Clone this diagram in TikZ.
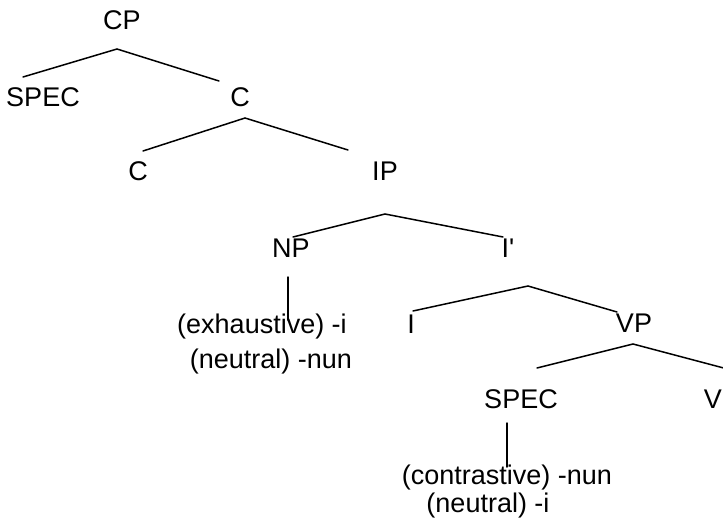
\documentclass[tikz,border=0pt]{standalone}
\usepackage{fontspec}
\setmainfont{Liberation Sans}
\begin{document}
\begin{tikzpicture}[x=1pt,y=-1pt,
  lbl/.style={inner sep=0pt, anchor=base, font=\fontsize{27}{32}\selectfont},
  edge/.style={line width=1.5pt, line cap=round}]
\useasboundingbox (0,0) rectangle (723,524);
% nodes
\node[lbl] (CP) at (122,30) {CP};
\node[lbl] (SPEC1) at (43,107) {SPEC};
\node[lbl] (C1) at (240,107) {C};
\node[lbl] (C2) at (138,180) {C};
\node[lbl] (IP) at (385,180) {IP};
\node[lbl] (NP) at (291,257) {NP};
\node[lbl] (Ibar) at (508,257) {I\textquotesingle};
\node[lbl] (NPa) at (262,333) {(exhaustive) -i};
\node[lbl] (NPb) at (271,368) {(neutral) -nun};
\node[lbl] (I) at (411,333) {I};
\node[lbl] (VP) at (634,332) {VP};
\node[lbl] (SPEC2) at (521,408) {SPEC};
\node[lbl, anchor=base east] (V) at (722,408) {V};
\node[lbl] (SPa) at (507,484) {(contrastive) -nun};
\node[lbl] (SPb) at (488,512) {(neutral) -i};
% branch points
\coordinate (CPb) at (117,49);
\coordinate (SPEC1t) at (23,77);
\coordinate (C1t) at (219,81);
\coordinate (C1b) at (245,118);
\coordinate (C2t) at (143,151);
\coordinate (IPt) at (348,150);
\coordinate (IPb) at (385,214);
\coordinate (NPt) at (293,237);
\coordinate (Ibart) at (503,237);
\coordinate (NPb1) at (288,277);
\coordinate (NPb2) at (288,320);
\coordinate (Ibarb) at (528,286);
\coordinate (It) at (413,311);
\coordinate (VPt) at (617,312);
\coordinate (VPb) at (633,344);
\coordinate (SPEC2t) at (537,368);
\coordinate (Vt) at (735,371);
\coordinate (SPb1) at (507,423);
\coordinate (SPb2) at (507,467);
% connectors
\draw[edge] (SPEC1t) -- (CPb) -- (C1t);
\draw[edge] (C2t) -- (C1b) -- (IPt);
\draw[edge] (NPt) -- (IPb) -- (Ibart);
\draw[edge] (NPb1) -- (NPb2);
\draw[edge] (It) -- (Ibarb) -- (VPt);
\draw[edge] (SPEC2t) -- (VPb) -- (Vt);
\draw[edge] (SPb1) -- (SPb2);
\end{tikzpicture}
\end{document}
